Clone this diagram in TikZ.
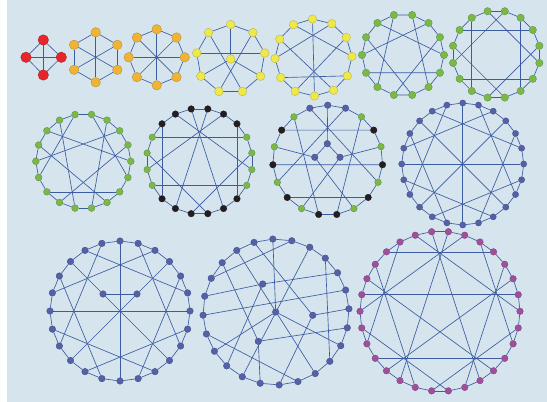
\documentclass[tikz,border=0pt]{standalone}
\usetikzlibrary{calc}
\definecolor{bgc}{RGB}{213,228,237}
\definecolor{edgec}{RGB}{60,92,162}
\definecolor{cred}{RGB}{230,38,42}
\definecolor{corange}{RGB}{240,180,52}
\definecolor{cyellow}{RGB}{238,232,72}
\definecolor{cgreen}{RGB}{122,184,72}
\definecolor{cblack}{RGB}{35,31,32}
\definecolor{cblue}{RGB}{84,96,168}
\definecolor{cmag}{RGB}{160,80,155}
\pgfdeclarelayer{bglayer}
\pgfdeclarelayer{edgelayer}
\pgfsetlayers{bglayer,edgelayer,main}
\tikzset{
  vtx/.style={circle,inner sep=0pt,line width=0.3pt},
  edge/.style={draw=edgec,line width=0.65pt},
}
% ring of nodes: name, last index, cx, cy, R, start angle, step, style
\newcommand{\ringnodes}[8]{%
  \foreach \i in {0,...,#2}{%
    \node[vtx,#8] (#1-\i) at ({#3+#5*cos(#6+#7*\i)},{#4-#5*sin(#6+#7*\i)}) {};
  }}
\newcommand{\ringcycle}[2]{%
  \foreach \i in {1,...,#2}{%
    \pgfmathtruncatemacro\jj{mod(\i,#2)}%
    \pgfmathtruncatemacro\kk{\i-1}%
    \draw[edge] (#1-\kk) -- (#1-\jj);
  }}
\newcommand{\chords}[2]{%
  \foreach \a/\b in {#2}{\draw[edge] (#1-\a) -- (#1-\b);}}
\begin{document}
\begin{tikzpicture}[x=1pt,y=-1pt]
\useasboundingbox (0,0) rectangle (547,402);
\begin{pgfonlayer}{bglayer}
\fill[white] (0,0) rectangle (547,402);
\fill[bgc] (7,0) rectangle (547,402);
\end{pgfonlayer}

% G1 K4
\tikzset{r1/.style={fill=cred,draw=cred!70!black,minimum size=10.5pt}}
\node[vtx,r1] (g1-0) at (43.3,40) {};
\node[vtx,r1] (g1-1) at (61.3,57.3) {};
\node[vtx,r1] (g1-2) at (43.3,75) {};
\node[vtx,r1] (g1-3) at (26,57.3) {};
% G2 K33
\ringnodes{g2}{5}{95.7}{57.3}{25}{90}{-60}{fill=corange,draw=corange!75!black,minimum size=9.5pt}
% G3 Wagner
\ringnodes{g3}{7}{156.7}{57.3}{28}{90}{-45}{fill=corange,draw=corange!75!black,minimum size=9.5pt}
% G4 Petersen
\ringnodes{g4}{8}{230.7}{59}{34.5}{90}{40}{fill=cyellow,draw=cyellow!75!black,minimum size=8.6pt}
\node[vtx,fill=cyellow,draw=cyellow!75!black,minimum size=8.6pt] (g4-c) at (230.7,59) {};
% G5
\ringnodes{g5}{11}{313.5}{57.5}{38.5}{91.5}{30}{fill=cyellow,draw=cyellow!75!black,minimum size=8.4pt}
% G6 Heawood
\ringnodes{g6}{13}{403}{55}{41}{102.86}{-25.714}{fill=cgreen,draw=cgreen!75!black,minimum size=7.4pt}
% G7 Moebius-Kantor
\ringnodes{g7}{15}{496.2}{54.4}{44}{101.25}{-22.5}{fill=cgreen,draw=cgreen!75!black,minimum size=7.4pt}
% G8 Pappus
\ringnodes{g8}{17}{83.3}{161.3}{47.5}{100}{-20}{fill=cgreen,draw=cgreen!75!black,minimum size=6.8pt}
% G9
\foreach \i in {0,...,19}{%
  \pgfmathtruncatemacro\isg{((\i>3)&&(\i<8))||((\i>13)&&(\i<18))}%
  \ifnum\isg=1 \def\vc{cgreen}\else\def\vc{cblack}\fi
  \node[vtx,fill=\vc,draw=\vc!75!black,minimum size=6.6pt] (g9-\i) at ({199.5+53*cos(99-18*\i)},{161.3-53*sin(99-18*\i)}) {};
}
% G10
\foreach \i/\vc in {0/cblue,1/cblue,2/cgreen,3/cblack,4/cgreen,5/cblack,6/cgreen,7/cblack,8/cgreen,9/cblack,10/cblack,11/cgreen,12/cblack,13/cgreen,14/cblack,15/cgreen,16/cblack,17/cgreen,18/cblue}{%
  \node[vtx,fill=\vc,draw=\vc!75!black,minimum size=6.6pt] (g10-\i) at ({327.7+55*cos(90-18.947*\i)},{160.2-55*sin(90-18.947*\i)}) {};
}
\tikzset{b10/.style={fill=cblue,draw=cblue!75!black,minimum size=6.6pt}}
\node[vtx,b10] (g10-a) at (327.3,143.7) {};
\node[vtx,b10] (g10-b) at (314.7,157.3) {};
\node[vtx,b10] (g10-c) at (340,157.3) {};
% G11
\ringnodes{g11}{23}{462.7}{164}{61}{0}{15}{fill=cblue,draw=cblue!75!black,minimum size=6.2pt}
% G12
\ringnodes{g12}{23}{120}{311}{70}{0}{15}{fill=cblue,draw=cblue!75!black,minimum size=6.6pt}
\node[vtx,fill=cblue,draw=cblue!75!black,minimum size=6.6pt] (g12-L) at (103,294) {};
\node[vtx,fill=cblue,draw=cblue!75!black,minimum size=6.6pt] (g12-R) at (137,294) {};
% G13
\ringnodes{g13}{23}{276}{312}{73}{92.5}{-15}{fill=cblue,draw=cblue!75!black,minimum size=6.6pt}
\tikzset{b13/.style={fill=cblue,draw=cblue!75!black,minimum size=6.6pt}}
\node[vtx,b13] (g13-p) at (262.7,284) {};
\node[vtx,b13] (g13-q) at (275.7,312) {};
\node[vtx,b13] (g13-r) at (312.7,315.3) {};
\node[vtx,b13] (g13-s) at (258.3,341.3) {};
% G14
\ringnodes{g14}{29}{440}{311.3}{80}{0}{12}{fill=cmag,draw=cmag!75!black,minimum size=6.6pt}

\begin{pgfonlayer}{edgelayer}
\ringcycle{g1}{4}
\chords{g1}{0/2,1/3}
\ringcycle{g2}{6}
\chords{g2}{0/3,1/4,2/5}
\ringcycle{g3}{8}
\chords{g3}{0/4,1/5,2/6,3/7}
\ringcycle{g4}{9}
\chords{g4}{c/0,c/3,c/6,2/7,1/5,8/4}
\ringcycle{g5}{12}
\chords{g5}{0/6,1/9,11/3,2/7,10/5,4/8}
\ringcycle{g6}{14}
\chords{g6}{1/6,3/8,5/10,7/12,9/0,11/2,13/4}
\ringcycle{g7}{16}
\chords{g7}{0/5,2/7,4/9,6/11,8/13,10/15,12/1,14/3}
\ringcycle{g8}{18}
\chords{g8}{1/6,2/9,3/14,4/11,5/16,7/12,8/15,10/17,13/0}
\ringcycle{g9}{20}
\chords{g9}{3/8,18/13,17/4,14/7,0/9,1/12,19/6,2/15,16/10,5/11}
\ringcycle{g10}{19}
\chords{g10}{18/6,1/13,17/10,2/9,16/3,14/5,12/7,a/0,a/b,a/c,b/15,b/8,c/4,c/11}
\ringcycle{g11}{24}
\chords{g11}{0/12,3/15,6/18,9/21,1/8,4/11,7/14,10/17,13/20,16/23,19/2,22/5}
\ringcycle{g12}{24}
\chords{g12}{0/12,6/18,1/8,4/11,7/14,10/17,13/20,16/23,19/2,22/5,3/R,R/15,9/L,L/21,L/R}
\ringcycle{g13}{24}
\chords{g13}{1/20,3/9,5/18,17/11,2/14,22/10,p/4,p/15,p/19,q/0,q/16,q/8,r/6,r/12,r/23,s/7,s/21,s/13}
\ringcycle{g14}{30}
\chords{g14}{1/14,7/20,13/26,19/2,25/8,18/27,24/3,0/9,6/15,12/21,4/11,10/17,16/23,22/29,28/5}
\end{pgfonlayer}
\end{tikzpicture}
\end{document}
